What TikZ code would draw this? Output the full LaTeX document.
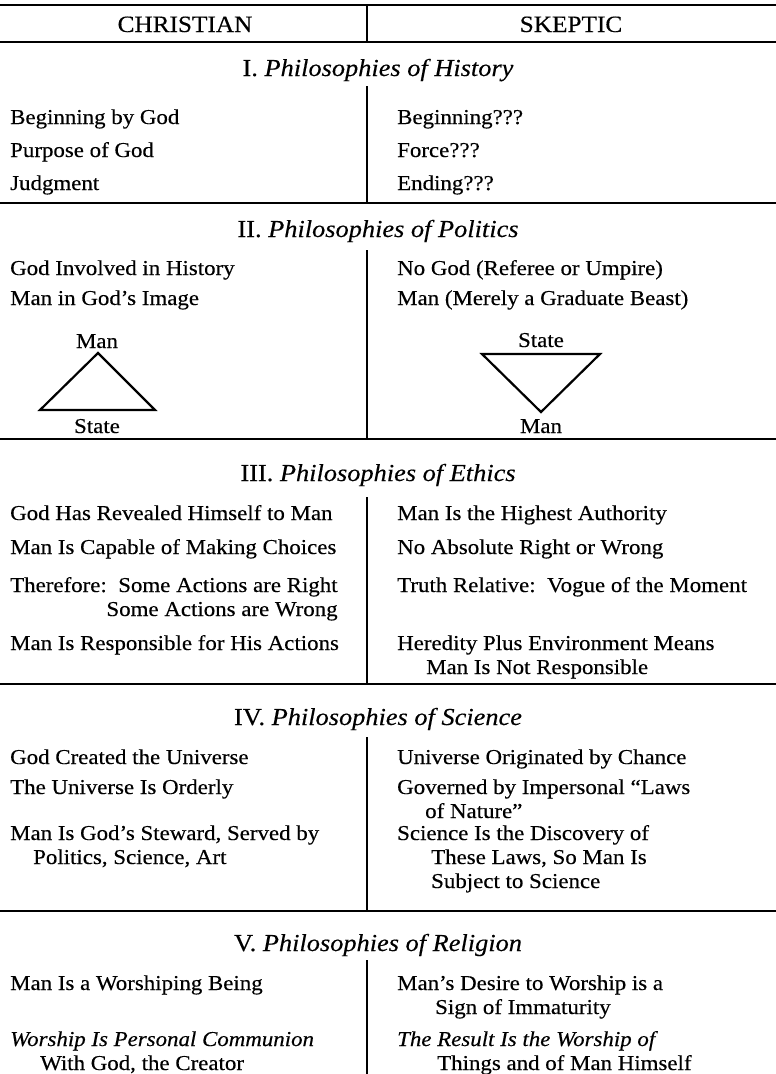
\documentclass[tikz,border=0pt]{standalone}
\usepackage{fontspec}
\setmainfont[FakeStretch=1.08,FakeBold=0.3]{Liberation Serif}
\newcommand{\stackleft}[1]{\begin{tabular}[t]{@{}l@{}}#1\end{tabular}}
\newcommand{\stackright}[1]{\begin{tabular}[t]{@{}r@{}}#1\end{tabular}}
\begin{document}
\begin{tikzpicture}[x=1pt,y=-1pt,
  every node/.style={font=\fontsize{21.2}{24}\selectfont, inner sep=0pt},
  entry/.style={anchor=base west},
  head/.style={anchor=base, font=\fontsize{23.4}{26}\selectfont},
  section/.style={anchor=base, font=\fontsize{24.4}{26}\selectfont},
  label/.style={anchor=base},
  rule/.style={line width=2pt},
  divider/.style={line width=1.5pt},
  tri/.style={line width=2.2pt, line join=miter}]
\useasboundingbox (0,0) rectangle (776,1074);
\fill[white] (0,0) rectangle (776,1074);

% rules and the column divider
\foreach \y in {5,42,203,439,684,911}
  \draw[rule] (0,\y) -- (776,\y);
\foreach \a/\b in {5/42,86/203,250/439,497/684,737/911,960/1074}
  \draw[divider] (367,\a) -- (367,\b);

% header
\node[head] (christian) at (185,32) {CHRISTIAN};
\node[head] (skeptic) at (571,32) {SKEPTIC};

% I
\node[section] (hist) at (378,76) {I. \textit{Philosophies of History}};
\node[entry] (h1l) at (10,124) {Beginning by God};
\node[entry] (h2l) at (10,157) {Purpose of God};
\node[entry] (h3l) at (10,190) {Judgment};
\node[entry] (h1r) at (397,124) {Beginning???};
\node[entry] (h2r) at (397,157) {Force???};
\node[entry] (h3r) at (397,190) {Ending???};

% II
\node[section] (pol) at (378,237) {II. \textit{Philosophies of Politics}};
\node[entry] (p1l) at (10,275) {God Involved in History};
\node[entry] (p2l) at (10,305) {Man in God's Image};
\node[entry] (p1r) at (397,275) {No God (Referee or Umpire)};
\node[entry] (p2r) at (397,305) {Man (Merely a Graduate Beast)};
\node[label] (manl) at (97,348) {Man};
\node[label] (statel) at (97,433) {State};
\node[label] (stater) at (541,347) {State};
\node[label] (manr) at (541,433) {Man};
\coordinate (al) at (98,353);
\coordinate (bl1) at (40,410);
\coordinate (bl2) at (155,410);
\coordinate (ar) at (541,412);
\coordinate (br1) at (482,354);
\coordinate (br2) at (600,354);
\draw[tri] (al) -- (bl2) -- (bl1) -- cycle;
\draw[tri] (br1) -- (br2) -- (ar) -- cycle;

% III
\node[section] (eth) at (378,481) {III. \textit{Philosophies of Ethics}};
\node[entry] (e1l) at (10,520) {God Has Revealed Himself to Man};
\node[entry] (e2l) at (10,554) {Man Is Capable of Making Choices};
\node[entry] (e3l) at (10,592) {\stackright{Therefore:\ \ Some Actions are Right\\Some Actions are Wrong}};
\node[entry] (e4l) at (10,650) {Man Is Responsible for His Actions};
\node[entry] (e1r) at (397,520) {Man Is the Highest Authority};
\node[entry] (e2r) at (397,554) {No Absolute Right or Wrong};
\node[entry] (e3r) at (397,592) {Truth Relative:\ \ Vogue of the Moment};
\node[entry] (e4r) at (397,650) {\stackleft{Heredity Plus Environment Means\\\hspace*{29pt}Man Is Not Responsible}};

% IV
\node[section] (sci) at (378,725) {IV. \textit{Philosophies of Science}};
\node[entry] (s1l) at (10,764) {God Created the Universe};
\node[entry] (s2l) at (10,794) {The Universe Is Orderly};
\node[entry] (s3l) at (10,840) {\stackleft{Man Is God's Steward, Served by\\\hspace*{23pt}Politics, Science, Art}};
\node[entry] (s1r) at (397,764) {Universe Originated by Chance};
\node[entry] (s2r) at (397,794) {\stackleft{Governed by Impersonal ``Laws\\\hspace*{28pt}of Nature''}};
\node[entry] (s3r) at (397,840) {\stackleft{Science Is the Discovery of\\\hspace*{34pt}These Laws, So Man Is\\\hspace*{34pt}Subject to Science}};

% V
\node[section] (rel) at (378,951) {V. \textit{Philosophies of Religion}};
\node[entry] (r1l) at (10,990) {Man Is a Worshiping Being};
\node[entry] (r2l) at (10,1046) {\stackleft{\textit{Worship Is Personal Communion}\\\hspace*{30pt}With God, the Creator}};
\node[entry] (r1r) at (397,990) {\stackleft{Man's Desire to Worship is a\\\hspace*{38pt}Sign of Immaturity}};
\node[entry] (r2r) at (397,1046) {\stackleft{\textit{The Result Is the Worship of}\\\hspace*{40pt}Things and of Man Himself}};
\end{tikzpicture}
\end{document}
